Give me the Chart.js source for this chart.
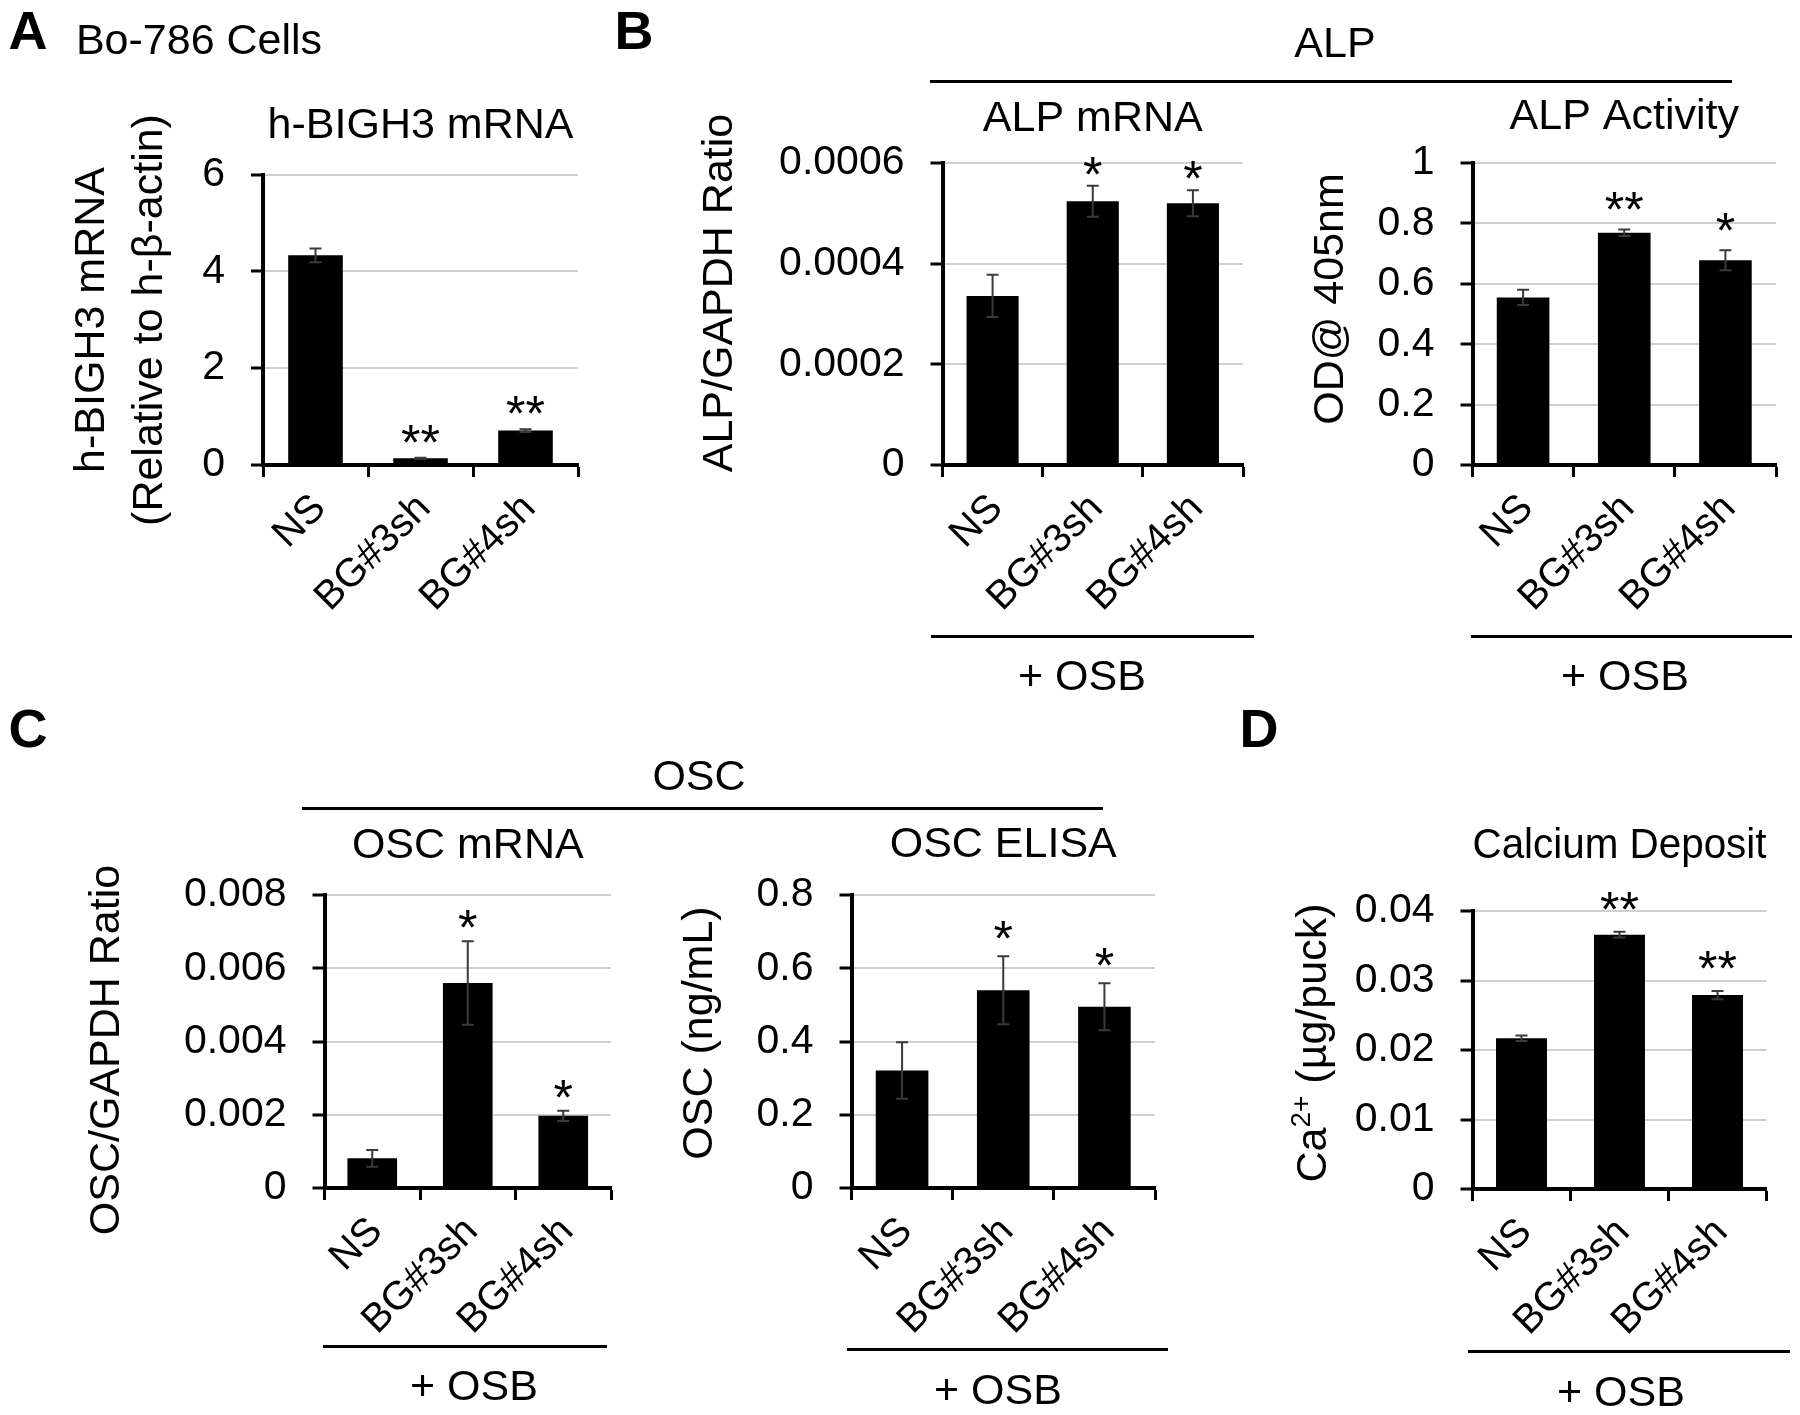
<!DOCTYPE html>
<html>
<head>
<meta charset="utf-8">
<script src="https://cdn.jsdelivr.net/npm/chart.js@4.4.1/dist/chart.umd.min.js"></script>
<style>
html,body{margin:0;padding:0;background:#fff;}
#page{position:relative;width:1800px;height:1415px;overflow:hidden;font-family:"Liberation Sans",Arial,sans-serif;color:#000;background:#fff;}
#page canvas{position:absolute;left:0;top:0;}
.t{position:absolute;white-space:nowrap;line-height:1;transform:translate(-50%,-50%);font-size:43px;}
.b{font-weight:bold;font-size:54px;}
.hl{position:absolute;height:3px;background:#000;}
</style>
</head>
<body>
<div id="page">
  <canvas id="cA" width="1800" height="1415"></canvas>
  <canvas id="cBL" width="1800" height="1415"></canvas>
  <canvas id="cBR" width="1800" height="1415"></canvas>
  <canvas id="cCL" width="1800" height="1415"></canvas>
  <canvas id="cCR" width="1800" height="1415"></canvas>
  <canvas id="cD" width="1800" height="1415"></canvas>

  <div class="t b" style="left:28px;top:30px;">A</div>
  <div class="t" style="left:199px;top:39px;">Bo-786 Cells</div>
  <div class="t b" style="left:634px;top:30px;">B</div>
  <div class="t b" style="left:28px;top:728px;">C</div>
  <div class="t b" style="left:1259px;top:728px;">D</div>

  <div class="t" style="left:1335px;top:42px;">ALP</div>
  <div class="hl" style="left:930px;top:80px;width:802px;"></div>
  <div class="t" style="left:699px;top:775px;">OSC</div>
  <div class="hl" style="left:302px;top:807px;width:801px;"></div>

  <div class="hl" style="left:931px;top:635px;width:323px;"></div>
  <div class="t" style="left:1082px;top:675px;">+ OSB</div>
  <div class="hl" style="left:1471px;top:635px;width:321px;"></div>
  <div class="t" style="left:1625px;top:675px;">+ OSB</div>
  <div class="hl" style="left:323px;top:1345px;width:284px;"></div>
  <div class="t" style="left:474px;top:1385px;">+ OSB</div>
  <div class="hl" style="left:847px;top:1348px;width:321px;"></div>
  <div class="t" style="left:998px;top:1389px;">+ OSB</div>
  <div class="hl" style="left:1468px;top:1350px;width:322px;"></div>
  <div class="t" style="left:1621px;top:1391px;">+ OSB</div>
</div>
<script>
// ---------------- DATA ----------------
const categories = ['NS', 'BG#3sh', 'BG#4sh'];

const bigh3Values = [4.33, 0.14, 0.71];
const bigh3Errors = [0.14, 0.01, 0.03];
const bigh3Stars  = ['', '**', '**'];
const bigh3Ticks  = ['0', '2', '4', '6'];

const alpMrnaValues = [0.000336, 0.000524, 0.00052];
const alpMrnaErrors = [0.000042, 0.000031, 0.000026];
const alpMrnaStars  = ['', '*', '*'];
const alpMrnaTicks  = ['0', '0.0002', '0.0004', '0.0006'];

const alpActValues = [0.555, 0.769, 0.678];
const alpActErrors = [0.025, 0.011, 0.033];
const alpActStars  = ['', '**', '*'];
const alpActTicks  = ['0', '0.2', '0.4', '0.6', '0.8', '1'];

const oscMrnaValues = [0.00081, 0.0056, 0.00197];
const oscMrnaErrors = [0.00023, 0.00114, 0.00014];
const oscMrnaStars  = ['', '*', '*'];
const oscMrnaTicks  = ['0', '0.002', '0.004', '0.006', '0.008'];

const oscElisaValues = [0.321, 0.54, 0.495];
const oscElisaErrors = [0.077, 0.093, 0.064];
const oscElisaStars  = ['', '*', '*'];
const oscElisaTicks  = ['0', '0.2', '0.4', '0.6', '0.8'];

const calciumValues = [0.0217, 0.0366, 0.0279];
const calciumErrors = [0.0004, 0.0004, 0.0006];
const calciumStars  = ['', '**', '**'];
const calciumTicks  = ['0', '0.01', '0.02', '0.03', '0.04'];

// ---------------- RENDERING ----------------
const FONT = '"Liberation Sans", Arial, sans-serif';
Chart.defaults.font.family = FONT;
Chart.defaults.color = '#000';

const decorPlugin = {
  id: 'decor',
  afterDatasetsDraw(chart, args, opts) {
    const ctx = chart.ctx;
    const meta = chart.getDatasetMeta(0);
    const ys = chart.scales.y;
    const vals = chart.data.datasets[0].data;
    ctx.save();
    meta.data.forEach((bar, i) => {
      const v = vals[i], e = opts.errors[i];
      const yt = ys.getPixelForValue(v + e);
      const yb = ys.getPixelForValue(v - e);
      const x = bar.x;
      ctx.strokeStyle = '#3a3a3a';
      ctx.lineWidth = 2;
      ctx.beginPath();
      ctx.moveTo(x, yt); ctx.lineTo(x, yb);
      ctx.moveTo(x - 6, yt); ctx.lineTo(x + 6, yt);
      ctx.moveTo(x - 6, yb); ctx.lineTo(x + 6, yb);
      ctx.stroke();
      const s = opts.stars[i];
      if (s) {
        ctx.fillStyle = '#000';
        ctx.font = '50px ' + FONT;
        ctx.textAlign = 'center';
        ctx.textBaseline = 'alphabetic';
        ctx.fillText(s, x, yt - opts.starGap + 29);
      }
    });
    ctx.restore();
  },
  afterDraw(chart, args, opts) {
    const ctx = chart.ctx;
    const t = opts.yTitle;
    ctx.save();
    ctx.fillStyle = '#000';
    ctx.textBaseline = 'middle';
    t.lines.forEach((parts, li) => {
      ctx.save();
      ctx.translate(t.x + li * t.gap, t.y);
      ctx.rotate(-Math.PI / 2);
      let total = 0;
      parts.forEach(p => {
        ctx.font = (p.sup ? '28px ' : '43px ') + FONT;
        total += ctx.measureText(p.t).width;
      });
      let cx = -total / 2;
      ctx.textAlign = 'left';
      parts.forEach(p => {
        ctx.font = (p.sup ? '28px ' : '43px ') + FONT;
        ctx.fillText(p.t, cx, p.sup ? -12 : 0);
        cx += ctx.measureText(p.t).width;
      });
      ctx.restore();
    });
    ctx.restore();
  }
};

function makeChart(id, cfg) {
  const W = 1800, H = 1415, FY = 190, FX = 190;
  const LH = 43 * 1.2;
  const padTop = cfg.titleY - LH / 2;
  const pb = cfg.box.T - padTop - LH;
  return new Chart(document.getElementById(id), {
    type: 'bar',
    data: {
      labels: categories,
      datasets: [{
        data: cfg.values,
        backgroundColor: '#000',
        borderWidth: 0,
        barPercentage: 0.52,
        categoryPercentage: 1
      }]
    },
    options: {
      responsive: false,
      animation: false,
      devicePixelRatio: 1,
      layout: { padding: { left: cfg.box.L - FY, right: W - cfg.box.R, top: padTop, bottom: H - cfg.box.B - FX } },
      plugins: {
        legend: { display: false },
        tooltip: { enabled: false },
        title: {
          display: true, text: cfg.title, fullSize: false, color: '#000',
          font: { family: FONT, size: 43, weight: 'normal', lineHeight: 1.2 },
          padding: { top: 0, bottom: pb }
        },
        decor: { errors: cfg.errors, stars: cfg.stars, starGap: cfg.starGap, yTitle: cfg.yTitle }
      },
      scales: {
        x: {
          grid: { display: true, drawOnChartArea: false, drawTicks: true, tickLength: 12, tickColor: '#000', tickWidth: 3, offset: true },
          border: { display: true, color: '#000', width: 4 },
          ticks: { color: '#000', font: { family: FONT, size: 40 }, minRotation: 45, maxRotation: 45, autoSkip: false, padding: 8, labelOffset: 4 },
          afterFit: s => { s.height = FX; }
        },
        y: {
          min: 0, max: cfg.max,
          ticks: { stepSize: cfg.step, color: '#000', font: { family: FONT, size: 41 }, padding: 26,
                   callback: (v, i) => cfg.ticks[i] },
          grid: { color: '#cfcfcf', lineWidth: 2, drawTicks: true, tickLength: 12, tickColor: '#000', tickWidth: 3 },
          border: { display: true, color: '#000', width: 4 },
          afterFit: s => { s.width = FY; }
        }
      }
    },
    plugins: [decorPlugin]
  });
}

makeChart('cA', {
  values: bigh3Values, errors: bigh3Errors, stars: bigh3Stars, ticks: bigh3Ticks,
  max: 6, step: 2, title: 'h-BIGH3 mRNA', titleY: 126, starGap: 27,
  box: { L: 263, R: 578, T: 174.5, B: 465 },
  yTitle: { x: 92, y: 320, gap: 58, lines: [[{ t: 'h-BIGH3 mRNA' }], [{ t: '(Relative to h-\u03B2-actin)' }]] }
});
makeChart('cBL', {
  values: alpMrnaValues, errors: alpMrnaErrors, stars: alpMrnaStars, ticks: alpMrnaTicks,
  max: 0.0006, step: 0.0002, title: 'ALP mRNA', titleY: 119, starGap: 23,
  box: { L: 942.5, R: 1243, T: 163, B: 465 },
  yTitle: { x: 720, y: 293, gap: 0, lines: [[{ t: 'ALP/GAPDH Ratio' }]] }
});
makeChart('cBR', {
  values: alpActValues, errors: alpActErrors, stars: alpActStars, ticks: alpActTicks,
  max: 1, step: 0.2, title: 'ALP Activity', titleY: 117, starGap: 31,
  box: { L: 1472.5, R: 1776, T: 163, B: 465 },
  yTitle: { x: 1331, y: 299, gap: 0, lines: [[{ t: 'OD@ 405nm' }]] }
});
makeChart('cCL', {
  values: oscMrnaValues, errors: oscMrnaErrors, stars: oscMrnaStars, ticks: oscMrnaTicks,
  max: 0.008, step: 0.002, title: 'OSC mRNA', titleY: 846, starGap: 25,
  box: { L: 324.5, R: 611, T: 895, B: 1188 },
  yTitle: { x: 107, y: 1050, gap: 0, lines: [[{ t: 'OSC/GAPDH Ratio' }]] }
});
makeChart('cCR', {
  values: oscElisaValues, errors: oscElisaErrors, stars: oscElisaStars, ticks: oscElisaTicks,
  max: 0.8, step: 0.2, title: 'OSC ELISA', titleY: 845, starGap: 29,
  box: { L: 851.5, R: 1155, T: 895, B: 1188 },
  yTitle: { x: 700, y: 1033, gap: 0, lines: [[{ t: 'OSC (ng/mL)' }]] }
});
makeChart('cD', {
  values: calciumValues, errors: calciumErrors, stars: calciumStars, ticks: calciumTicks,
  max: 0.04, step: 0.01, title: 'Calcium Deposit', titleY: 846, starGap: 34,
  box: { L: 1472.5, R: 1766.5, T: 911, B: 1189 },
  yTitle: { x: 1314, y: 1043, gap: 0, lines: [[{ t: 'Ca' }, { t: '2+', sup: true }, { t: ' (\u00B5g/puck)' }]] }
});
</script>
</body>
</html>
